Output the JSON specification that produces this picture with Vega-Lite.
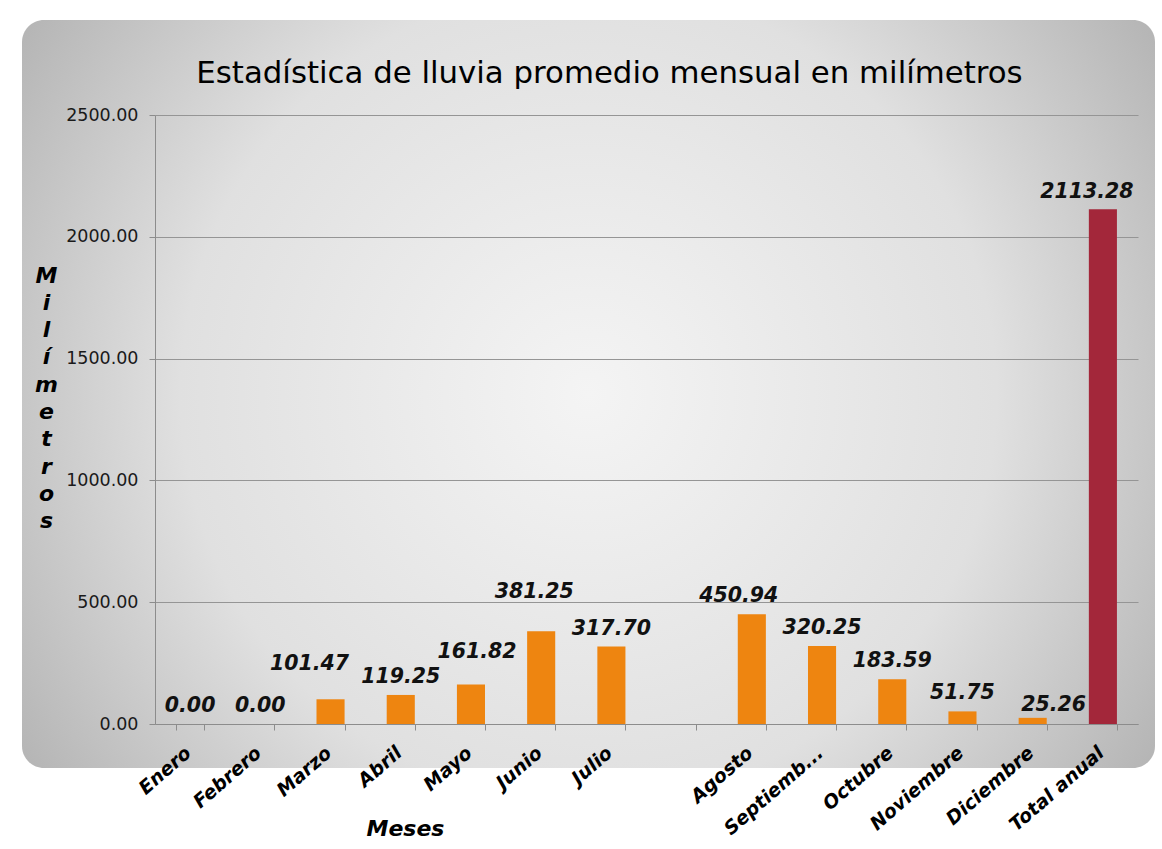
{
  "$schema": "https://vega.github.io/schema/vega-lite/v6.json",
  "width": 1133,
  "height": 748,
  "autosize": {"type": "none"},
  "padding": {"left": 22, "top": 20, "right": 7, "bottom": 81},
  "background": "#ffffff",
  "title": {
    "text": "Estadística de lluvia promedio mensual en milímetros",
    "font": "DejaVu Sans",
    "fontSize": 30.8,
    "fontWeight": "normal",
    "color": "#000000",
    "anchor": "middle",
    "frame": "group",
    "offset": -94,
    "baseline": "alphabetic",
    "dx": 21
  },
  "config": {
    "view": {
      "fill": {
        "gradient": "radial",
        "x1": 0.5, "y1": 0.5, "r1": 0,
        "x2": 0.5, "y2": 0.5, "r2": 0.72,
        "stops": [
          {"offset": 0, "color": "#f4f4f4"},
          {"offset": 0.5, "color": "#e0e0e0"},
          {"offset": 1, "color": "#9e9e9e"}
        ]
      },
      "stroke": null,
      "cornerRadius": 22
    },
    "text": {
      "font": "DejaVu Sans",
      "fontSize": 20.5,
      "fontWeight": "bold",
      "fontStyle": "italic",
      "color": "#111111",
      "baseline": "alphabetic"
    }
  },
  "data": {
    "values": [
      {"mes": "Enero", "mm": 0.0, "tipo": "Mes"},
      {"mes": "Febrero", "mm": 0.0, "tipo": "Mes"},
      {"mes": "Marzo", "mm": 101.47, "tipo": "Mes"},
      {"mes": "Abril", "mm": 119.25, "tipo": "Mes"},
      {"mes": "Mayo", "mm": 161.82, "tipo": "Mes"},
      {"mes": "Junio", "mm": 381.25, "tipo": "Mes"},
      {"mes": "Julio", "mm": 317.70, "tipo": "Mes"},
      {"mes": "Agosto", "mm": 450.94, "tipo": "Mes"},
      {"mes": "Septiembre", "mm": 320.25, "tipo": "Mes"},
      {"mes": "Octubre", "mm": 183.59, "tipo": "Mes"},
      {"mes": "Noviembre", "mm": 51.75, "tipo": "Mes"},
      {"mes": "Diciembre", "mm": 25.26, "tipo": "Mes"},
      {"mes": "Total anual", "mm": 2113.28, "tipo": "Total"}
    ]
  },
  "encoding": {
    "x": {
      "field": "mes",
      "type": "nominal",
      "sort": null,
      "scale": {
        "domain": ["Enero", "Febrero", "Marzo", "Abril", "Mayo", "Junio", "Julio", " ", "Agosto", "Septiembre", "Octubre", "Noviembre", "Diciembre", "Total anual"],
        "range": [133, 1116],
        "paddingInner": 0.6,
        "paddingOuter": 0.3
      },
      "axis": {
        "offset": -44,
        "domainColor": "#8c8c8c",
        "domainWidth": 1,
        "ticks": true,
        "tickBand": "extent",
        "tickSize": 6,
        "tickColor": "#8c8c8c",
        "grid": false,
        "labelAngle": -41,
        "labelFont": "DejaVu Sans",
        "labelFontSize": 19,
        "labelFontWeight": "bold",
        "labelFontStyle": "italic",
        "labelColor": "#000000",
        "labelPadding": 13,
        "labelOffset": -8,
        "labelExpr": "datum.label == 'Septiembre' ? 'Septiemb...' : datum.label",
        "title": "Meses",
        "titleFont": "DejaVu Sans",
        "titleFontSize": 22,
        "titleFontWeight": "bold",
        "titleFontStyle": "italic",
        "titleColor": "#000000",
        "titleX": 383,
        "titleY": 104,
        "titleAlign": "center",
        "titleBaseline": "middle"
      }
    },
    "y": {
      "field": "mm",
      "type": "quantitative",
      "scale": {"domain": [0, 2500], "range": [704, 95], "nice": false, "zero": true},
      "axis": {
        "offset": -133,
        "values": [0, 500, 1000, 1500, 2000, 2500],
        "format": ".2f",
        "domainColor": "#8c8c8c",
        "grid": true,
        "gridColor": "#959595",
        "gridWidth": 1,
        "ticks": true,
        "tickSize": 6,
        "tickColor": "#8c8c8c",
        "labelFont": "DejaVu Sans",
        "labelFontSize": 17.5,
        "labelColor": "#1a1a1a",
        "labelPadding": 11,
        "title": ["M", "i", "l", "í", "m", "e", "t", "r", "o", "s"],
        "titleFont": "DejaVu Sans",
        "titleFontSize": 22,
        "titleFontWeight": "bold",
        "titleFontStyle": "italic",
        "titleColor": "#000000",
        "titleAngle": 0,
        "titleX": -109,
        "titleY": 245,
        "titleAlign": "center",
        "titleBaseline": "top",
        "titleLineHeight": 27.3
      }
    }
  },
  "layer": [
    {
      "mark": {"type": "bar"},
      "encoding": {
        "color": {
          "field": "tipo",
          "type": "nominal",
          "scale": {"domain": ["Mes", "Total"], "range": ["#ee8510", "#a3273a"]},
          "legend": null
        }
      }
    },
    {
      "transform": [{"filter": {"field": "mes", "oneOf": ["Enero", "Febrero", "Abril", "Julio", "Septiembre", "Octubre", "Noviembre"]}}],
      "mark": {"type": "text", "dy": -12},
      "encoding": {"text": {"field": "mm", "type": "quantitative", "format": ".2f"}}
    },
    {
      "transform": [{"filter": {"field": "mes", "equal": "Marzo"}}],
      "mark": {"type": "text", "dy": -29, "dx": -21},
      "encoding": {"text": {"field": "mm", "type": "quantitative", "format": ".2f"}}
    },
    {
      "transform": [{"filter": {"field": "mes", "equal": "Mayo"}}],
      "mark": {"type": "text", "dy": -27, "dx": 6},
      "encoding": {"text": {"field": "mm", "type": "quantitative", "format": ".2f"}}
    },
    {
      "transform": [{"filter": {"field": "mes", "equal": "Junio"}}],
      "mark": {"type": "text", "dy": -33, "dx": -7},
      "encoding": {"text": {"field": "mm", "type": "quantitative", "format": ".2f"}}
    },
    {
      "transform": [{"filter": {"field": "mes", "equal": "Agosto"}}],
      "mark": {"type": "text", "dy": -12, "dx": -13},
      "encoding": {"text": {"field": "mm", "type": "quantitative", "format": ".2f"}}
    },
    {
      "transform": [{"filter": {"field": "mes", "equal": "Diciembre"}}],
      "mark": {"type": "text", "dy": -7, "dx": 21},
      "encoding": {"text": {"field": "mm", "type": "quantitative", "format": ".2f"}}
    },
    {
      "transform": [{"filter": {"field": "mes", "equal": "Total anual"}}],
      "mark": {"type": "text", "dy": -11, "dx": -16},
      "encoding": {"text": {"field": "mm", "type": "quantitative", "format": ".2f"}}
    }
  ]
}
